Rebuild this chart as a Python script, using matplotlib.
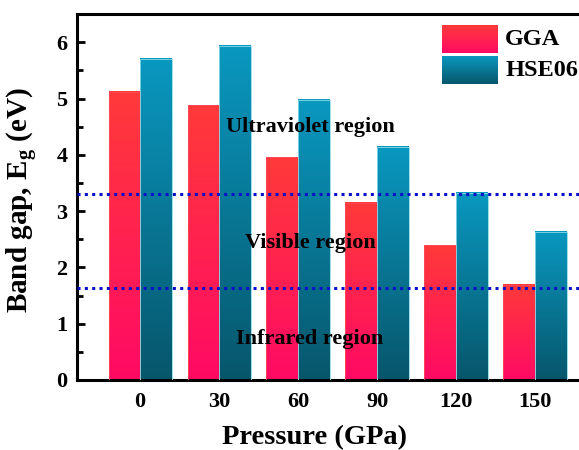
import matplotlib.pyplot as plt
import numpy as np
from matplotlib.colors import LinearSegmentedColormap
from matplotlib.patches import Rectangle

pressure = [0, 30, 60, 90, 120, 150]
gga = [5.12, 4.88, 3.96, 3.15, 2.39, 1.69]
hse06 = [5.71, 5.94, 4.98, 4.14, 3.33, 2.63]
uv_limit = 3.31
ir_limit = 1.63

plt.rcParams['font.family'] = ['Liberation Serif', 'DejaVu Serif']
plt.rcParams['font.weight'] = 'bold'
plt.rcParams['mathtext.fontset'] = 'custom'
plt.rcParams['mathtext.rm'] = 'Liberation Serif:bold'
plt.rcParams['mathtext.it'] = 'Liberation Serif:bold'

gga_cmap = LinearSegmentedColormap.from_list('gga', ['#ff0a64', '#ff3a3a'])
hse_cmap = LinearSegmentedColormap.from_list('hse', ['#07566b', '#0a98c0'])
grad = np.linspace(0, 1, 256).reshape(-1, 1)

fig = plt.figure(figsize=(5.79, 4.5), dpi=100)
ax = fig.add_axes([0.133, 0.1556, 0.9, 0.813])

w = 12


def grad_bar(x, h, cmap, edge):
    ax.imshow(grad, cmap=cmap, origin='lower', aspect='auto',
              extent=[x - w / 2, x + w / 2, 0, h], zorder=2)
    ax.add_patch(Rectangle((x - w / 2, 0), w, h, fill=False,
                           edgecolor=edge, lw=0.6, zorder=3))


for p, g, h in zip(pressure, gga, hse06):
    grad_bar(p - w / 2, g, gga_cmap, '#ff4a5a')
    grad_bar(p + w / 2, h, hse_cmap, '#8adbe8')

ax.axhline(uv_limit, color='#0a10c8', ls=(0, (1, 1.4)), lw=2.2, zorder=4)
ax.axhline(ir_limit, color='#0a10c8', ls=(0, (1, 1.4)), lw=2.2, zorder=4)

ax.text(64.5, 4.49, 'Ultraviolet region', ha='center', va='center',
        fontsize=16, fontweight='bold', zorder=5)
ax.text(64.5, 2.44, 'Visible region', ha='center', va='center',
        fontsize=16, fontweight='bold', zorder=5)
ax.text(64.5, 0.73, 'Infrared region', ha='center', va='center',
        fontsize=16, fontweight='bold', zorder=5)

ax.set_xticks(pressure)
ax.set_yticks(range(0, 7))
ax.set_yticks(np.arange(0.5, 6.5, 1), minor=True)
ax.tick_params(axis='both', which='major', direction='in', length=6, width=2,
               labelsize=16, right=True)
ax.tick_params(axis='y', which='minor', direction='in', length=4, width=2)
ax.tick_params(axis='x', pad=9)
ax.tick_params(axis='y', pad=7)
for s in ax.spines.values():
    s.set_linewidth(2.2)

ax.set_xlabel('Pressure (GPa)', fontsize=20.5, fontweight='bold')
ax.set_ylabel('Band gap, E$_\\mathregular{g}$ (eV)', fontsize=21,
              fontweight='bold')
ax.xaxis.set_label_coords(0.456, -0.122)
ax.yaxis.set_label_coords(-0.071, 0.49)

# legend drawn by hand so the swatches keep the gradient
leg_x = [114.7, 135.7]
for y0, cmap, label in [(6.05, gga_cmap, 'GGA'), (5.50, hse_cmap, 'HSE06')]:
    ax.imshow(grad, cmap=cmap, origin='lower', aspect='auto',
              extent=[leg_x[0], leg_x[1], y0 - 0.24, y0 + 0.24], zorder=5)
    ax.text(leg_x[1] + 3.0, y0, label, va='center', ha='left',
            fontsize=17.5, fontweight='bold', zorder=5)

ax.set_xlim(-24, 174)
ax.set_ylim(0, 6.5)

fig.savefig('out.png', dpi=100)
